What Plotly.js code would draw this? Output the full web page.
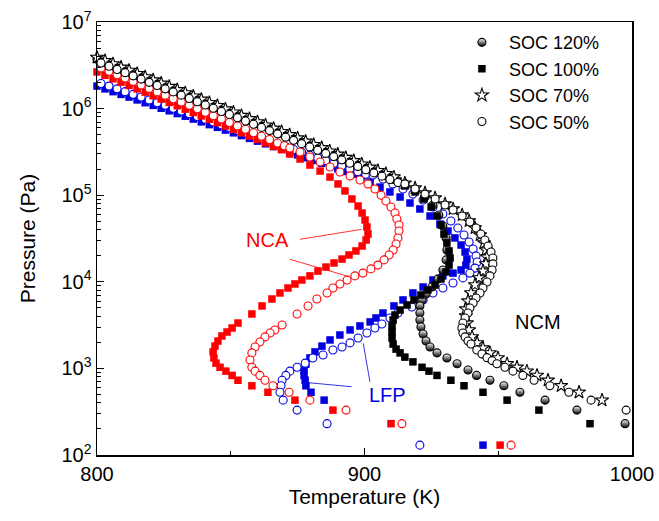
<!DOCTYPE html>
<html>
<head>
<meta charset="utf-8">
<script src="https://cdn.plot.ly/plotly-3.0.1.min.js"></script>
<style>
  html, body { margin: 0; padding: 0; background: #fff; }
  #chart { width: 659px; height: 521px; }
</style>
</head>
<body>
<div id="chart"></div>
<script>
// Vapour pressure curves (Pa) against temperature (K) for three cathode families.

// NCM, SOC 120 %
const ncm120T = [800, 803, 806, 809, 812, 815, 818, 821, 824, 827, 830, 833, 836, 839, 842, 845, 848, 851, 854, 857, 860, 863, 866, 869, 872, 875, 878, 881, 884, 887, 890, 893, 896, 899, 902, 905,
  908, 911, 915.1, 918.9, 922.6, 925.6, 927.8, 929.3, 930.5, 930.8, 930.5, 929.3, 927.5, 925.2, 923.0, 921.5, 920.7, 920.7, 920.7, 921.1, 921.9, 923.0, 924.5, 927.1, 930.8, 934.6, 938.7, 941.9, 946.9, 952.1, 958.1, 967.5, 979.4, 997.4];
const ncm120P = [3.72e6, 3.41e6, 3.13e6, 2.87e6, 2.64e6, 2.42e6, 2.22e6, 2.04e6, 1.87e6, 1.72e6, 1.58e6, 1.45e6, 1.33e6, 1.22e6, 1.12e6, 1.03e6, 9.44e5, 8.67e5, 7.94e5, 7.29e5, 6.70e5, 6.15e5, 5.65e5, 5.18e5, 4.76e5, 4.36e5, 4.00e5, 3.66e5, 3.37e5, 3.08e5, 2.83e5, 2.60e5, 2.38e5, 2.18e5, 2.01e5, 1.83e5,
  1.67e5, 1.52e5, 1.36e5, 1.15e5, 9.53e4, 7.71e4, 5.91e4, 4.41e4, 3.21e4, 2.33e4, 1.79e4, 1.37e4, 1.08e4, 8.71e3, 7.23e3, 6.17e3, 5.26e3, 4.36e3, 3.62e3, 3.01e3, 2.50e3, 2.07e3, 1.77e3, 1.51e3, 1.32e3, 1130, 958, 830, 730, 630, 530, 430, 330, 230];

// NCM, SOC 100 %
const ncm100T = [801.5, 804.5, 807.5, 810.5, 813.5, 816.5, 819.5, 822.5, 825.5, 828.5, 831.5, 834.5, 837.5, 840.5, 843.5, 846.5, 849.5, 852.5, 855.5, 858.5, 861.5, 864.5, 867.5, 870.5, 873.5, 876.5, 879.5, 882.5, 885.5, 888.5, 891.5, 894.5, 897.5, 900.5, 903.5, 906.5, 909.5, 912.5,
  915.1, 918.9, 922.2, 924.9, 927.1, 928.6, 929.7, 930.8, 931.6, 932.0, 931.6, 930.5, 928.6, 926.4, 923.7, 921.1, 918.5, 915.9, 913.3, 911.4, 910.7, 910.3, 910.3, 910.3, 910.7, 911.8, 913.3, 915.1, 918.1, 921.5, 924.1, 927.1, 932.3, 937.2, 944.3, 953.3, 965.2, 984.3];
const ncm100P = [3.52e6, 3.23e6, 2.97e6, 2.72e6, 2.50e6, 2.30e6, 2.10e6, 1.94e6, 1.77e6, 1.63e6, 1.49e6, 1.38e6, 1.26e6, 1.15e6, 1.06e6, 9.69e5, 8.94e5, 8.21e5, 7.52e5, 6.91e5, 6.35e5, 5.82e5, 5.35e5, 4.90e5, 4.50e5, 4.12e5, 3.78e5, 3.47e5, 3.18e5, 2.92e5, 2.68e5, 2.45e5, 2.25e5, 2.07e5, 1.90e5, 1.74e5, 1.60e5, 1.46e5,
  1.28e5, 1.09e5, 9.04e4, 7.31e4, 5.75e4, 4.53e4, 3.56e4, 2.81e4, 2.27e4, 1.88e4, 1.56e4, 1.30e4, 1.08e4, 9.19e3, 8.04e3, 7.04e3, 6.17e3, 5.40e3, 4.72e3, 4.14e3, 3.62e3, 3.09e3, 2.63e3, 2.24e3, 1.91e3, 1.67e3, 1.51e3, 1.35e3, 1.19e3, 1030, 930, 830, 730, 630, 530, 430, 330, 230];

// NCM, SOC 70 %
const ncm70T = [800, 803, 806, 809, 812, 815, 818, 821, 824, 827, 830, 833, 836, 839, 842, 845, 848, 851, 854, 857, 860, 863, 866, 869, 872, 875, 878, 881, 884, 887, 890, 893, 896, 899, 902, 905,
  908, 911, 915.1, 918.9, 922.6, 926.4, 930.1, 933.1, 936.5, 939.1, 941.3, 943.2, 944.7, 945.4, 945.8, 945.4, 944.3, 942.8, 941.3, 939.8, 938.7, 937.9, 937.9, 938.3, 939.1, 940.2, 942.1, 944.3, 946.9, 949.9, 953.3, 957.0, 960.7, 964.5, 968.6, 973.5, 980.2, 988.8, 1000.7];
const ncm70P = [3.90e6, 3.57e6, 3.28e6, 3.00e6, 2.76e6, 2.53e6, 2.32e6, 2.14e6, 1.96e6, 1.80e6, 1.65e6, 1.52e6, 1.39e6, 1.28e6, 1.17e6, 1.08e6, 9.88e5, 9.08e5, 8.31e5, 7.63e5, 7.02e5, 6.44e5, 5.92e5, 5.42e5, 4.98e5, 4.57e5, 4.19e5, 3.84e5, 3.53e5, 3.23e5, 2.97e5, 2.72e5, 2.50e5, 2.28e5, 2.10e5, 1.92e5,
  1.77e5, 1.62e5, 1.38e5, 1.21e5, 1.06e5, 9.29e4, 7.91e4, 6.93e4, 5.91e4, 5.04e4, 4.18e4, 3.47e4, 2.81e4, 2.33e4, 1.93e4, 1.61e4, 1.33e4, 1.11e4, 9.19e3, 7.43e3, 6.00e3, 4.85e3, 4.03e3, 3.34e3, 2.78e3, 2.31e3, 1.97e3, 1.72e3, 1.51e3, 1.32e3, 1130, 1030, 930, 830, 730, 630, 530, 430, 330];

// NCM, SOC 50 %
const ncm50T = [801.5, 804.5, 807.5, 810.5, 813.5, 816.5, 819.5, 822.5, 825.5, 828.5, 831.5, 834.5, 837.5, 840.5, 843.5, 846.5, 849.5, 852.5, 855.5, 858.5, 861.5, 864.5, 867.5, 870.5, 873.5, 876.5, 879.5, 882.5, 885.5, 888.5, 891.5, 894.5, 897.5, 900.5, 903.5, 906.5, 909.5, 912.5,
  915.1, 918.9, 922.6, 926.4, 930.1, 933.1, 936.5, 939.4, 941.7, 943.5, 945.0, 946.2, 947.3, 948.0, 948.0, 947.7, 946.9, 945.8, 944.3, 943.2, 941.7, 940.6, 939.4, 938.7, 937.6, 936.8, 936.4, 936.8, 937.6, 938.7, 939.8, 942.0, 943.9, 945.8, 947.7, 949.5, 952.5, 955.5, 959.2, 963.4, 969.3, 976.4, 984.7, 997.8];
const ncm50P = [3.36e6, 3.08e6, 2.83e6, 2.60e6, 2.39e6, 2.19e6, 2.01e6, 1.85e6, 1.69e6, 1.56e6, 1.43e6, 1.31e6, 1.20e6, 1.10e6, 1.01e6, 9.26e5, 8.55e5, 7.84e5, 7.19e5, 6.60e5, 6.07e5, 5.57e5, 5.11e5, 4.68e5, 4.30e5, 3.94e5, 3.61e5, 3.31e5, 3.04e5, 2.79e5, 2.56e5, 2.34e5, 2.15e5, 1.97e5, 1.81e5, 1.66e5, 1.52e5, 1.40e5,
  1.35e5, 1.18e5, 1.03e5, 9.04e4, 7.71e4, 6.75e4, 5.75e4, 4.91e4, 4.18e4, 3.56e4, 3.04e4, 2.59e4, 2.21e4, 1.88e4, 1.61e4, 1.37e4, 1.17e4, 9.95e3, 8.48e3, 7.43e3, 6.50e3, 5.69e3, 4.98e3, 4.36e3, 3.82e3, 3.34e3, 2.93e3, 2.56e3, 2.31e3, 2.07e3, 1.91e3, 1.63e3, 1.47e3, 1330, 1230, 1130, 1030, 930, 830, 730, 630, 530, 430, 330];

// NCA, SOC 100 %
const nca100T = [800, 803, 806, 809, 812, 815, 818, 821, 824, 827, 830, 833, 836, 839, 842, 845, 848, 851, 854, 857, 860, 863, 866, 869,
  872.1, 875.9, 879.6, 883.4, 887.1, 890.1, 892.7, 895.3, 897.6, 899.1, 900.2, 900.9, 901.3, 900.6, 899.1, 896.8, 894.2, 891.6, 888.6, 885.6, 882.6, 879.6, 876.6, 874.0, 871.4, 868.4, 865.4, 861.7, 857.9, 852.7, 850.5, 848.6, 846.7, 845.2, 844.1, 843.4, 843.7, 844.5, 846.0, 848.2, 850.5, 852.7, 857.9, 863.9, 874.0, 888.2, 909.9, 950.7];
const nca100P = [2.65e6, 2.42e6, 2.21e6, 2.02e6, 1.85e6, 1.69e6, 1.55e6, 1.41e6, 1.29e6, 1.18e6, 1.08e6, 9.86e5, 9.02e5, 8.24e5, 7.53e5, 6.89e5, 6.30e5, 5.75e5, 5.26e5, 4.81e5, 4.40e5, 4.02e5, 3.67e5, 3.36e5,
  2.99e5, 2.62e5, 2.23e5, 1.90e5, 1.62e5, 1.35e5, 1.12e5, 9.04e4, 7.50e4, 6.23e4, 5.17e4, 4.30e4, 3.56e4, 3.04e4, 2.59e4, 2.27e4, 2.04e4, 1.83e4, 1.65e4, 1.48e4, 1.33e4, 1.17e4, 1.05e4, 9.44e3, 8.48e3, 7.43e3, 6.33e3, 5.26e3, 4.25e3, 3.34e3, 2.93e3, 2.63e3, 2.37e3, 2.07e3, 1.81e3, 1.55e3, 1.32e3, 1.15e3, 1030, 930, 830, 730, 630, 530, 430, 330, 230, 130];

// NCA, SOC 50 %
const nca50T = [801.5, 804.5, 807.5, 810.5, 813.5, 816.5, 819.5, 822.5, 825.5, 828.5, 831.5, 834.5, 837.5, 840.5, 843.5, 846.5, 849.5, 852.5, 855.5, 858.5, 861.5, 864.5, 867.5, 870.0,
  872.1, 875.9, 879.6, 883.4, 887.1, 890.8, 894.6, 898.3, 901.3, 903.9, 906.2, 908.0, 909.9, 911.4, 912.1, 912.9, 912.9, 912.5, 911.8, 910.7, 909.2, 907.3, 905.0, 902.4, 899.4, 896.4, 893.5, 890.8, 888.2, 886.0, 882.2, 878.9, 874.8, 869.2, 866.5, 864.7, 862.8, 860.9, 859.1, 857.9, 857.2, 857.9, 859.1, 860.9, 862.8, 865.8, 871.8, 879.6, 893.1, 914.0, 954.8];
const nca50P = [2.95e6, 2.70e6, 2.46e6, 2.25e6, 2.06e6, 1.87e6, 1.71e6, 1.56e6, 1.43e6, 1.30e6, 1.19e6, 1.09e6, 9.93e5, 9.08e5, 8.28e5, 7.57e5, 6.92e5, 6.31e5, 5.77e5, 5.26e5, 4.81e5, 4.39e5, 4.01e5, 3.72e5,
  3.51e5, 3.15e5, 2.76e5, 2.42e5, 2.12e5, 1.85e5, 1.67e5, 1.50e5, 1.35e5, 1.18e5, 1.00e5, 8.57e4, 7.31e4, 6.23e4, 5.31e4, 4.53e4, 3.86e4, 3.21e4, 2.73e4, 2.33e4, 2.04e4, 1.79e4, 1.56e4, 1.41e4, 1.26e4, 1.17e4, 1.05e4, 9.44e3, 8.48e3, 7.43e3, 6.33e3, 5.26e3, 4.25e3, 3.17e3, 2.78e3, 2.56e3, 2.31e3, 2.02e3, 1.77e3, 1.51e3, 1.25e3, 1030, 930, 830, 730, 630, 530, 430, 330, 230, 130];

// LFP, SOC 100 %
const lfp100T = [800, 803, 806, 809, 812, 815, 818, 821, 824, 827, 830, 833, 836, 839, 842, 845, 848, 851, 854, 857, 860, 863, 866, 869, 872, 875, 878, 881, 884, 887, 890, 893, 896, 899,
  902.1, 905.8, 909.5, 913.3, 917.0, 920.7, 924.5, 928.2, 931.2, 933.8, 936.1, 937.6, 938.3, 937.9, 936.1, 933.1, 929.3, 925.6, 921.9, 918.1, 914.4, 911.0, 906.9, 904.3, 902.1, 898.3, 894.6, 890.8, 887.1, 884.1, 881.5, 879.6, 878.1, 877.4, 877.4, 877.8, 878.1, 880.0, 884.9, 944.3];
const lfp100P = [1.82e6, 1.69e6, 1.57e6, 1.46e6, 1.36e6, 1.26e6, 1.17e6, 1.09e6, 1.01e6, 9.44e5, 8.77e5, 8.15e5, 7.57e5, 7.03e5, 6.53e5, 6.08e5, 5.65e5, 5.25e5, 4.88e5, 4.53e5, 4.21e5, 3.92e5, 3.64e5, 3.38e5, 3.14e5, 2.92e5, 2.71e5, 2.52e5, 2.34e5, 2.18e5, 2.02e5, 1.88e5, 1.75e5, 1.63e5,
  1.42e5, 1.24e5, 1.09e5, 9.53e4, 8.13e4, 6.93e4, 5.75e4, 4.65e4, 3.86e4, 3.21e4, 2.66e4, 2.21e4, 1.83e4, 1.56e4, 1.37e4, 1.26e4, 1.17e4, 1.05e4, 8.71e3, 7.43e3, 6.17e3, 5.26e3, 4.36e3, 3.82e3, 3.44e3, 3.09e3, 2.78e3, 2.43e3, 2.13e3, 1.81e3, 1.55e3, 1.32e3, 1.12e3, 958, 830, 730, 630, 530, 430, 130];

// LFP, SOC 50 %
const lfp50T = [801.5, 804.5, 807.5, 810.5, 813.5, 816.5, 819.5, 822.5, 825.5, 828.5, 831.5, 834.5, 837.5, 840.5, 843.5, 846.5, 849.5, 852.5, 855.5, 858.5, 861.5, 864.5, 867.5, 870.5, 873.5, 876.5, 879.5, 882.5, 885.5, 888.5, 891.5, 894.5, 897.5, 900.5,
  903.2, 906.9, 910.6, 914.4, 918.1, 921.9, 925.6, 929.3, 932.3, 934.9, 937.2, 939.1, 940.6, 941.7, 942.1, 941.3, 939.4, 936.8, 933.1, 929.3, 925.6, 921.9, 917.7, 912.5, 909.5, 906.5, 903.9, 900.9, 897.6, 894.6, 891.6, 888.2, 884.5, 880.7, 877.8, 874.8, 872.1, 870.6, 869.2, 868.8, 868.4, 869.6, 874.8, 886.0, 920.7];
const lfp50P = [1.95e6, 1.82e6, 1.69e6, 1.57e6, 1.46e6, 1.36e6, 1.26e6, 1.17e6, 1.09e6, 1.01e6, 9.40e5, 8.73e5, 8.11e5, 7.54e5, 7.00e5, 6.52e5, 6.05e5, 5.62e5, 5.22e5, 4.85e5, 4.51e5, 4.20e5, 3.90e5, 3.62e5, 3.37e5, 3.13e5, 2.90e5, 2.70e5, 2.51e5, 2.33e5, 2.17e5, 2.01e5, 1.87e5, 1.74e5,
  1.71e5, 1.54e5, 1.35e5, 1.18e5, 1.03e5, 8.81e4, 7.31e4, 6.07e4, 5.04e4, 4.18e4, 3.47e4, 2.88e4, 2.39e4, 1.99e4, 1.69e4, 1.44e4, 1.26e4, 1.11e4, 9.68e3, 8.48e3, 7.43e3, 6.17e3, 5.12e3, 4.36e3, 3.82e3, 3.26e3, 2.93e3, 2.56e3, 2.24e3, 1.97e3, 1.77e3, 1.63e3, 1.43e3, 1.32e3, 1.15e3, 1030, 930, 830, 730, 630, 530, 430, 330, 230, 130];

// Axis labels
const xTicks = [800, 900, 1000];
const yTickVals = [1e2, 1e3, 1e4, 1e5, 1e6, 1e7];
const yTickText = ['10<sup>2</sup>', '10<sup>3</sup>', '10<sup>4</sup>', '10<sup>5</sup>', '10<sup>6</sup>', '10<sup>7</sup>'];
const socNames = ['SOC 120%', 'SOC 100%', 'SOC 70%', 'SOC 50%'];

const FONT = '"Liberation Sans", Arial, sans-serif';
const BLACK = '#000000';
const RED = '#ff0000';
const BLUE = '#0000e0';

// minor ticks at 2..9 within each decade
const yMinor = [];
for (let e = 2; e < 7; e++) for (let d = 2; d <= 9; d++) yMinor.push(d * Math.pow(10, e));

function solid(T, P, symbol, color, size) {
  return { x: T, y: P, type: 'scatter', mode: 'markers', cliponaxis: false, showlegend: false,
    marker: { symbol: symbol, size: size, color: color, line: { width: 0 } } };
}
function hollow(T, P, symbol, color, size) {
  return { x: T, y: P, type: 'scatter', mode: 'markers', cliponaxis: false, showlegend: false,
    marker: { symbol: symbol, size: size, color: '#ffffff', line: { width: 1.1, color: color } } };
}

const tLfp100 = solid(lfp100T, lfp100P, 'square', BLUE, 7.5);
const tLfp50 = hollow(lfp50T, lfp50P, 'circle', BLUE, 8);
const tNca100 = solid(nca100T, nca100P, 'square', RED, 7.5);
const tNca50 = hollow(nca50T, nca50P, 'circle', RED, 8);

// half-filled circles: white top, black bottom
const tNcm120 = hollow(ncm120T, ncm120P, 'circle', BLACK, 8);
tNcm120.marker.gradient = { type: 'vertical', color: BLACK };
tNcm120.name = socNames[0]; tNcm120.showlegend = true; tNcm120.legendrank = 1;

const tNcm100 = solid(ncm100T, ncm100P, 'square', BLACK, 7.5);
tNcm100.name = socNames[1]; tNcm100.showlegend = true; tNcm100.legendrank = 2;

const tNcm70 = hollow(ncm70T, ncm70P, 'star', BLACK, 10);
tNcm70.name = socNames[2]; tNcm70.showlegend = true; tNcm70.legendrank = 3;

const tNcm50 = hollow(ncm50T, ncm50P, 'circle', BLACK, 8);
tNcm50.name = socNames[3]; tNcm50.showlegend = true; tNcm50.legendrank = 4;

const data = [tLfp100, tLfp50, tNca100, tNca50, tNcm120, tNcm100, tNcm70, tNcm50];

const thin = (x0, y0, x1, y1, c) => ({ type: 'line', xref: 'paper', yref: 'paper', x0, y0, x1, y1, line: { color: c, width: 0.8 } });
const label = (x, y, text, c) => ({ xref: 'paper', yref: 'paper', x, y, text, showarrow: false,
  xanchor: 'center', yanchor: 'middle', font: { family: FONT, size: 20, color: c } });

const layout = {
  width: 659, height: 521,
  margin: { l: 97, r: 27, t: 22, b: 66 },
  paper_bgcolor: '#ffffff', plot_bgcolor: '#ffffff',
  font: { family: FONT, size: 20, color: BLACK },
  showlegend: true,
  legend: { x: 0.669, y: 0.995, xanchor: 'left', yanchor: 'top', bgcolor: 'rgba(0,0,0,0)',
    font: { family: FONT, size: 18, color: BLACK }, tracegroupgap: 0, itemwidth: 44 },
  xaxis: {
    range: [800, 1000], tickmode: 'array', tickvals: xTicks,
    ticks: 'inside', ticklen: 7, tickwidth: 1.3, tickcolor: BLACK,
    minor: { dtick: 50, tick0: 800, ticks: 'inside', ticklen: 4, tickwidth: 1.3, tickcolor: BLACK },
    showline: true, linecolor: BLACK, linewidth: 1.5, mirror: true,
    showgrid: false, zeroline: false, automargin: false,
    tickfont: { family: FONT, size: 20 },
    title: { text: 'Temperature (K)', font: { family: FONT, size: 21 }, standoff: 6 }
  },
  yaxis: {
    type: 'log', range: [2, 7], tickmode: 'array', tickvals: yTickVals, ticktext: yTickText,
    ticks: 'inside', ticklen: 7, tickwidth: 1.3, tickcolor: BLACK,
    minor: { tickmode: 'array', tickvals: yMinor, ticks: 'inside', ticklen: 4, tickwidth: 1, tickcolor: BLACK },
    showline: true, linecolor: BLACK, linewidth: 1.5, mirror: true,
    showgrid: false, zeroline: false, automargin: false,
    tickfont: { family: FONT, size: 20 },
    title: { text: 'Pressure (Pa)', font: { family: FONT, size: 21 }, standoff: 20 }
  },
  shapes: [
    thin(0.3794, 0.4981, 0.4946, 0.5212, RED),
    thin(0.3607, 0.4519, 0.4716, 0.4118, RED),
    thin(0.3950, 0.1670, 0.4759, 0.1577, BLUE),
    thin(0.4977, 0.2580, 0.5101, 0.1693, BLUE)
  ],
  annotations: [
    label(0.3196, 0.4965, 'NCA', RED),
    label(0.8252, 0.3072, 'NCM', BLACK),
    label(0.5439, 0.1386, 'LFP', BLUE)
  ]
};

Plotly.newPlot('chart', data, layout, { displayModeBar: false, staticPlot: true });
</script>
</body>
</html>
